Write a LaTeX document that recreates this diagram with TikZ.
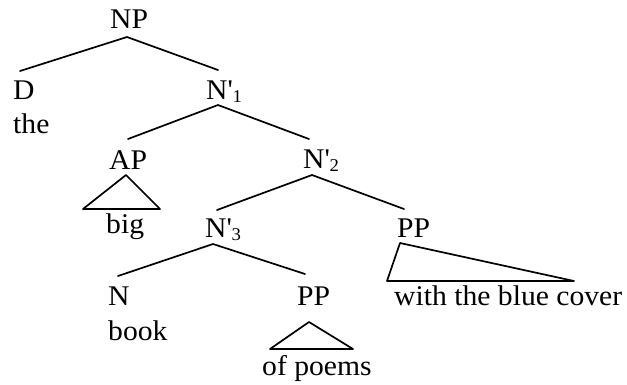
\documentclass[tikz,border=0pt]{standalone}
\usepackage{fontspec}
\setmainfont[FakeStretch=1.04]{Liberation Serif}
\newcommand{\barsub}[1]{\textquotesingle\raisebox{-0.25ex}{\fontsize{18}{18}\selectfont #1}}
\tikzset{
  lab/.style={anchor=base west, inner sep=0pt, font=\fontsize{28.5}{31}\selectfont},
  branch/.style={line width=1.7pt, line cap=round, line join=round}
}
\begin{document}
\begin{tikzpicture}[x=1pt,y=-1pt]
\useasboundingbox (0,0) rectangle (627,384);
% labels
\node[lab] (np) at (110,28) {NP};
\node[lab] (d) at (13,99) {D};
\node[lab] (the) at (13,133) {the};
\node[lab] (n1) at (206,99) {N\barsub{1}};
\node[lab] (ap) at (109,169) {AP};
\node[lab] (big) at (106,233) {big};
\node[lab] (n2) at (303,168) {N\barsub{2}};
\node[lab] (n3) at (205,237) {N\barsub{3}};
\node[lab] (pp1) at (397,237) {PP};
\node[lab] (n) at (108,305) {N};
\node[lab] (book) at (108,340) {book};
\node[lab] (pp2) at (297,305) {PP};
\node[lab] (wbc) at (394,305) {with the blue cover};
\node[lab] (op) at (262,375) {of poems};
% branch points
\coordinate (npT) at (127,37);
\coordinate (npL) at (20,71);
\coordinate (npR) at (218,70);
\coordinate (n1T) at (218,105);
\coordinate (n1L) at (128,139);
\coordinate (n1R) at (309,139);
\coordinate (apT) at (126,175);
\coordinate (apL) at (83,209);
\coordinate (apR) at (160,209);
\coordinate (n2T) at (312,175);
\coordinate (n2L) at (217,210);
\coordinate (n2R) at (404,209);
\coordinate (n3T) at (213,244);
\coordinate (n3L) at (118,276);
\coordinate (n3R) at (305,274);
\coordinate (pp1T) at (400,243);
\coordinate (pp1L) at (387,281);
\coordinate (pp1R) at (574,281);
\coordinate (pp2T) at (309,322);
\coordinate (pp2L) at (270,349);
\coordinate (pp2R) at (353,349);
% branches
\draw[branch] (npL) -- (npT) -- (npR);
\draw[branch] (n1L) -- (n1T) -- (n1R);
\draw[branch] (apL) -- (apT) -- (apR) -- cycle;
\draw[branch] (n2L) -- (n2T) -- (n2R);
\draw[branch] (n3L) -- (n3T) -- (n3R);
\draw[branch] (pp1L) -- (pp1T) -- (pp1R) -- cycle;
\draw[branch] (pp2L) -- (pp2T) -- (pp2R) -- cycle;
\end{tikzpicture}
\end{document}
